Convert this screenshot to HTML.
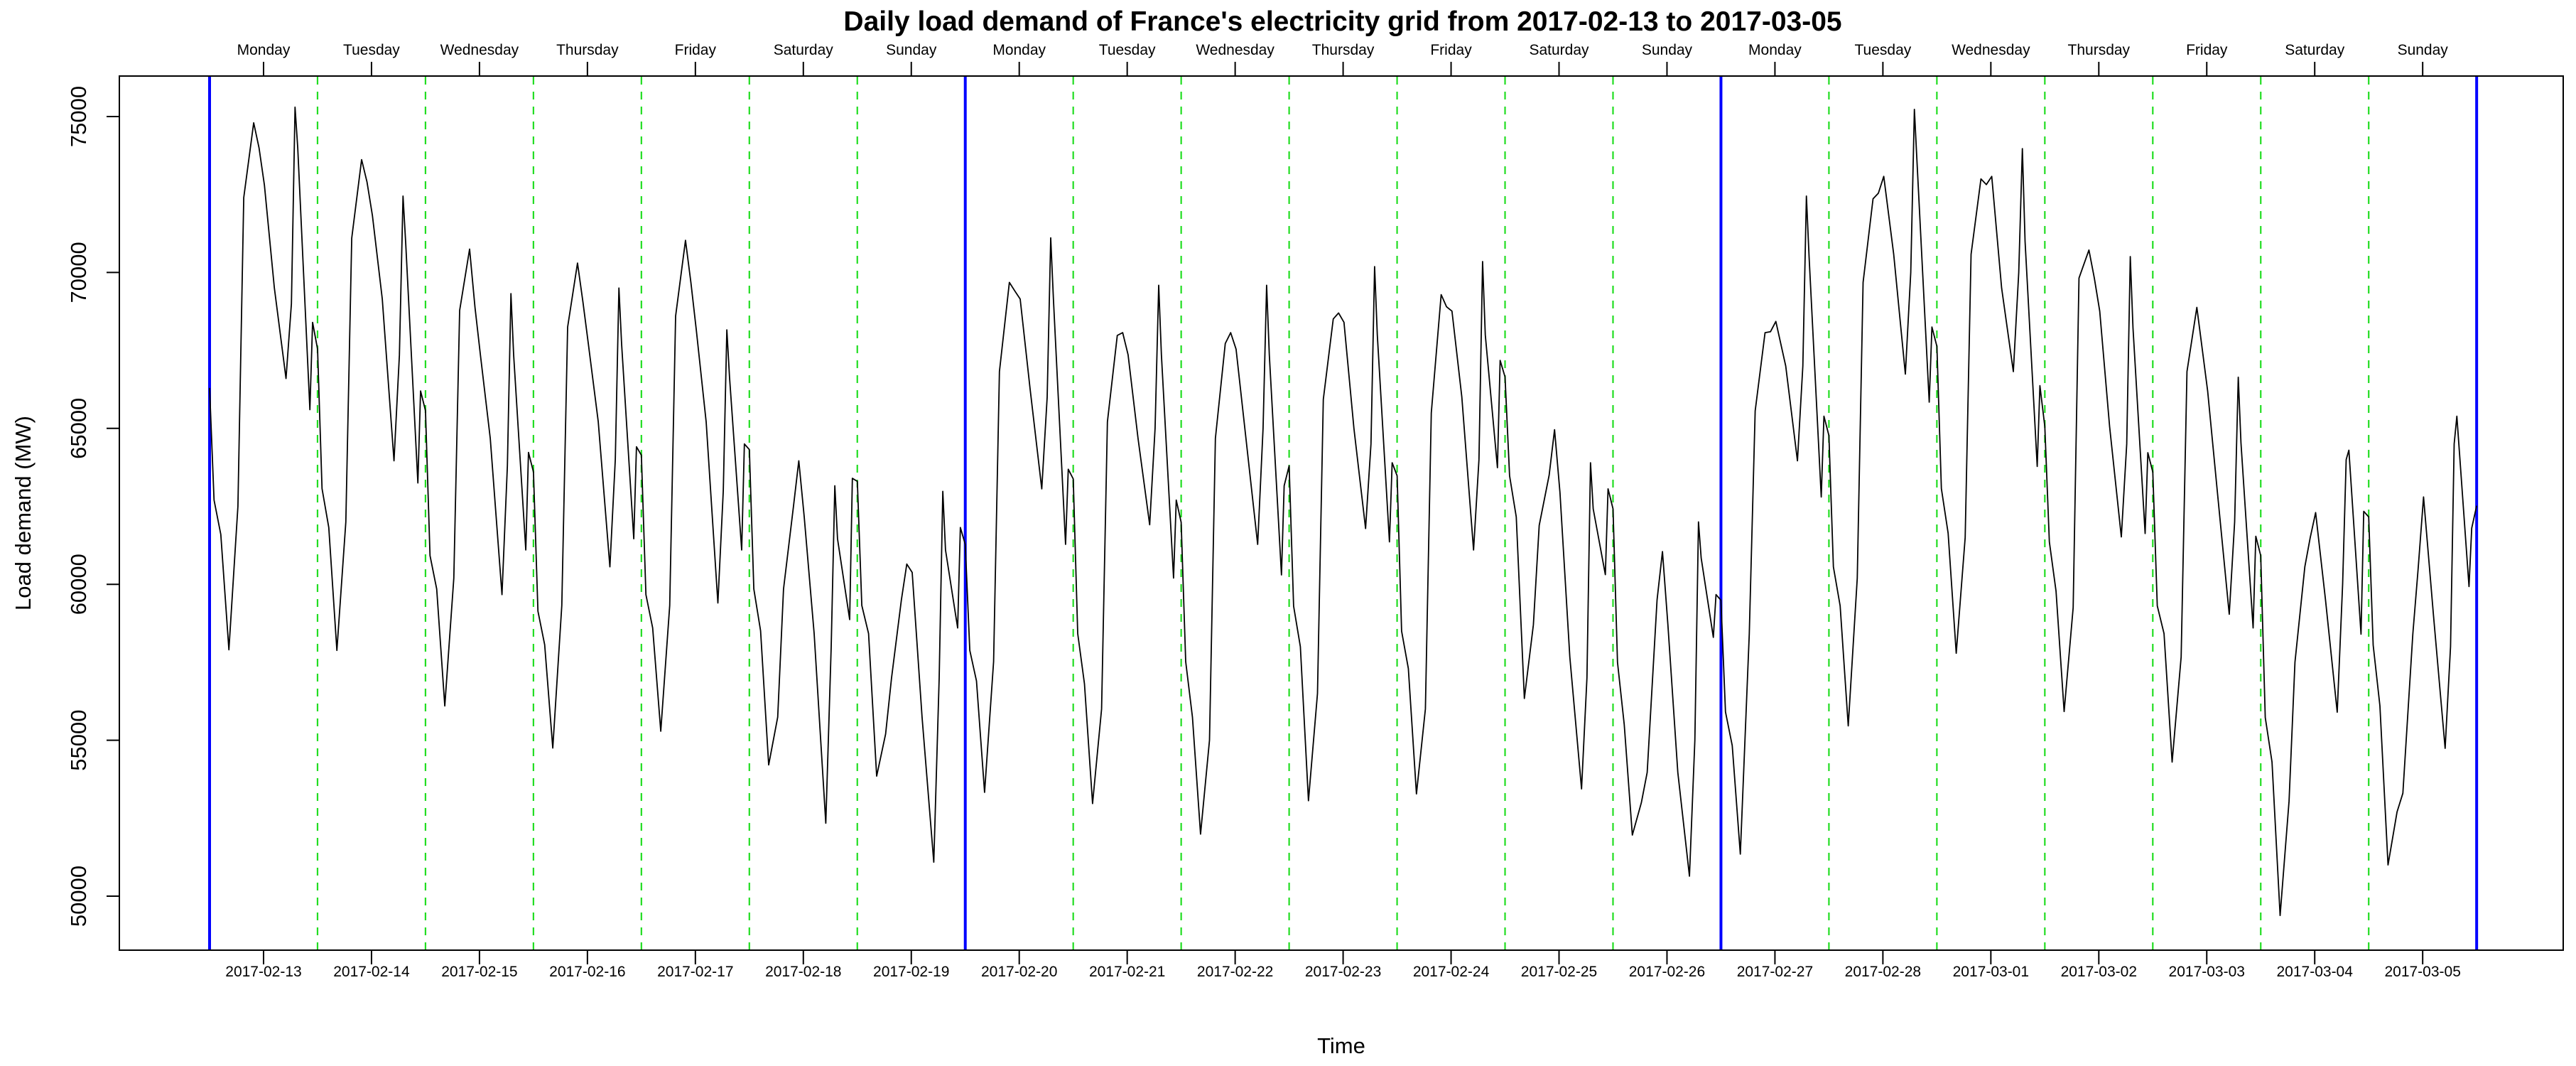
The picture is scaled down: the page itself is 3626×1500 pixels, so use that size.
<!DOCTYPE html>
<html><head><meta charset="utf-8"><style>
html,body{margin:0;padding:0;background:#fff}
svg{display:block}
text{font-family:"Liberation Sans",sans-serif;fill:#000}
</style></head><body>
<svg id="chart" width="3626" height="1500" viewBox="0 0 3626 1500" xmlns="http://www.w3.org/2000/svg">
<text x="1890" y="43" font-size="39" font-weight="bold" text-anchor="middle">Daily load demand of France's electricity grid from 2017-02-13 to 2017-03-05</text>
<text x="1888" y="1482" font-size="31" text-anchor="middle">Time</text>
<text transform="translate(43,722) rotate(-90)" font-size="31" text-anchor="middle">Load demand (MW)</text>
<g id="grid"></g><g id="series"></g><g id="axes"></g>
<rect x="168" y="107" width="3440" height="1230" fill="none" stroke="#000" stroke-width="2"/>
</svg>
<script>
const dates = ["2017-02-13","2017-02-14","2017-02-15","2017-02-16","2017-02-17","2017-02-18","2017-02-19","2017-02-20","2017-02-21","2017-02-22","2017-02-23","2017-02-24","2017-02-25","2017-02-26","2017-02-27","2017-02-28","2017-03-01","2017-03-02","2017-03-03","2017-03-04","2017-03-05"];
const dayNames = ["Monday","Tuesday","Wednesday","Thursday","Friday","Saturday","Sunday"];
const yTicks = [50000,55000,60000,65000,70000,75000];
const keyHours = [0,1,2.5,4.3,6.3,7.6,9.8,11,12.2,14.4,17,18.2,19,19.6,22.3,22.9];
const load = [
[66300,62700,61600,57900,62500,72400,74800,74000,72800,69500,66600,69000,75300,74000,65600,68400],
[67540,63070,61820,57880,62000,71100,73620,72900,71830,69150,63960,67350,72450,70930,63250,66200],
[65570,60920,59850,56100,60200,68780,70750,68880,67360,64680,59670,63800,69320,67360,61100,64230],
[63600,59140,58060,54750,59320,68250,70300,69060,67720,65215,60560,64000,69500,67700,61460,64410],
[64140,59670,58600,55290,59320,68600,71030,69680,68160,65210,59400,63000,68160,66640,61100,64500],
[64320,59850,58510,54210,55740,59850,62500,63960,62170,58420,52340,58000,63160,61460,58870,63400],
[63300,59320,58420,53850,55200,56990,59500,60650,60380,55740,51090,57000,62980,61100,58600,61820],
[61280,57880,56900,53330,57520,66820,69680,69410,69150,66280,63060,66000,71110,69150,61280,63690],
[63380,58420,56810,52970,56000,65210,67980,68070,67360,64680,61910,65000,69590,67360,60200,62700],
[61990,57520,55740,51990,55000,64680,67720,68070,67540,64680,61280,65000,69590,67360,60300,63160],
[63800,59300,58000,53060,56500,65930,68510,68700,68400,65000,61790,64500,70190,68000,61360,63900],
[63480,58500,57300,53280,56000,65500,69290,68900,68760,66000,61100,64000,70350,68000,63740,67180],
[66650,63480,62160,56340,58700,61890,63500,64960,62950,57670,53440,57000,63900,62420,60310,63060],
[62420,57500,55500,51960,53000,53970,59500,61050,58720,53970,50640,55000,62000,60840,58300,59670],
[59490,55910,54830,51350,58410,65560,68070,68100,68430,67000,63960,67000,72450,70500,62800,65390],
[64770,60560,59310,55460,60200,69680,72360,72540,73080,70580,66740,70000,75230,73500,65840,68250],
[67630,63070,61640,57790,61500,70580,73000,72820,73080,69500,66820,70000,73970,71000,63780,66370],
[65060,61360,59780,55920,59250,69820,70720,69820,68760,65060,61520,64500,70510,68230,61630,64220],
[63600,59310,58420,54300,57670,66820,68880,67540,66200,62890,59040,62000,66640,64540,58600,61540],
[60920,55730,54300,49380,53050,57500,60560,61500,62300,59500,55900,60000,64000,64300,58400,62340],
[62160,58050,56100,51000,52700,53300,58400,60500,62800,59000,54740,58000,64500,65390,59930,61800]
];
const endValue = 62520;

const NS="http://www.w3.org/2000/svg";
const X0=295, DAYW=151.96, Y75=164, PXMW=0.04388;
function xDay(d){return X0+d*DAYW;}
function xTime(day,hour){return xDay(day+hour/24);}
function yVal(v){return Y75+(75000-v)*PXMW;}
function mk(tag,attrs,parent){const e=document.createElementNS(NS,tag);for(const k in attrs)e.setAttribute(k,attrs[k]);parent.appendChild(e);return e;}
const grid=document.getElementById('grid'),series=document.getElementById('series'),axes=document.getElementById('axes');

for(let k=0;k<=dates.length;k++){
  const weekly=k%7===0;
  const ln=mk('line',{x1:xDay(k),x2:xDay(k),y1:108,y2:1336,stroke:weekly?'#0000ff':'#22dd22','stroke-width':weekly?4:2.2,'stroke-dasharray':weekly?'none':'11,10'},grid);
  
  
}

let pts=[];
load.forEach((vals,d)=>{vals.forEach((v,i)=>{pts.push(xTime(d,keyHours[i]).toFixed(1)+','+yVal(v).toFixed(1));});});
pts.push(xDay(dates.length).toFixed(1)+','+yVal(endValue).toFixed(1));
const pl=mk('polyline',{points:pts.join(' '),fill:'none',stroke:'#000','stroke-width':1.8,'stroke-linejoin':'round'},series);



dates.forEach((ds,d)=>{
  const x=xDay(d+0.5);
  const t1=mk('line',{x1:x,x2:x,y1:1337,y2:1357,stroke:'#000','stroke-width':2},axes);
  
  
  const l1=mk('text',{x:x,y:1374,'font-size':21,'text-anchor':'middle'},axes);l1.textContent=ds;
  
  
  const t2=mk('line',{x1:x,x2:x,y1:107,y2:87,stroke:'#000','stroke-width':2},axes);
  
  
  const l2=mk('text',{x:x,y:77,'font-size':21,'text-anchor':'middle'},axes);l2.textContent=dayNames[d%7];
  
  
});
yTicks.forEach(v=>{
  const y=yVal(v);
  const t=mk('line',{x1:150,x2:168,y1:y,y2:y,stroke:'#000','stroke-width':2},axes);
  
  
  const l=mk('text',{transform:'translate(121,'+y+') rotate(-90)','font-size':31,'text-anchor':'middle'},axes);l.textContent=v;
  
  
});
</script>
</body></html>
